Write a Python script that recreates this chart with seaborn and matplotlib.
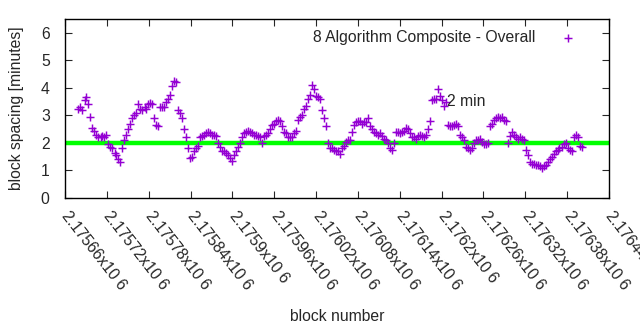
import numpy as np
import pandas as pd
import matplotlib
matplotlib.use("Agg")
import matplotlib.pyplot as plt
import seaborn as sns

FIRST_BLOCK = 2175679
LAST_BLOCK = 2176401

spacing = [
    3.25, 3.3, 3.2, 3.55, 3.65, 3.4, 2.95, 2.55, 2.45, 2.3,
    2.2, 2.2, 2.25, 2.2, 2.3, 1.95, 1.85, 1.8, 1.65, 1.55,
    1.4, 1.3, 1.8, 2.1, 2.3, 2.5, 2.7, 2.9, 3.0, 3.1,
    3.4, 3.25, 3.2, 3.3, 3.25, 3.4, 3.45, 3.4, 2.9, 2.65,
    2.6, 3.3, 3.3, 3.3, 3.5, 3.6, 3.75, 4.05, 4.25, 4.2,
    3.2, 3.1, 2.9, 2.5, 2.2, 1.8, 1.45, 1.5, 1.7, 1.8,
    1.9, 2.2, 2.25, 2.3, 2.35, 2.4, 2.35, 2.3, 2.3, 2.25,
    2.0, 1.85, 1.7, 1.7, 1.65, 1.55, 1.45, 1.35, 1.55, 1.7,
    1.85, 2.0, 2.2, 2.35, 2.4, 2.45, 2.4, 2.35, 2.3, 2.3,
    2.25, 2.2, 2.0, 2.25, 2.3, 2.35, 2.5, 2.65, 2.7, 2.8,
    2.85, 2.8, 2.6, 2.4, 2.35, 2.2, 2.2, 2.2, 2.35, 2.45,
    2.85, 2.95, 3.0, 3.25, 3.35, 3.6, 3.75, 4.1, 3.95, 3.7,
    3.65, 3.6, 3.2, 2.9, 2.6, 2.0, 1.8, 1.8, 1.75, 1.7,
    1.7, 1.6, 1.8, 1.9, 2.05, 2.1, 2.1, 2.4, 2.65, 2.75,
    2.8, 2.8, 2.7, 2.75, 2.75, 2.9, 2.6, 2.5, 2.4, 2.35,
    2.3, 2.35, 2.25, 2.15, 2.1, 2.0, 1.8, 1.75, 2.0, 2.4,
    2.4, 2.35, 2.4, 2.45, 2.55, 2.5, 2.35, 2.2, 2.2, 2.15,
    2.25, 2.3, 2.25, 2.2, 2.3, 2.5, 2.8, 3.55, 3.6, 3.6,
    3.95, 3.7, 3.55, 3.35, 3.5, 2.65, 2.6, 2.6, 2.65, 2.7,
    2.6, 2.3, 2.2, 2.1, 1.85, 1.8, 1.75, 1.8, 2.0, 2.1,
    2.1, 2.15, 2.05, 1.95, 1.95, 2.0, 2.6, 2.7, 2.85, 2.9,
    2.95, 2.9, 2.95, 2.85, 2.8, 2.0, 2.25, 2.4, 2.3, 2.2,
    2.15, 2.2, 2.15, 2.1, 1.75, 1.55, 1.3, 1.25, 1.25, 1.2,
    1.2, 1.15, 1.1, 1.15, 1.2, 1.3, 1.4, 1.5, 1.6, 1.7,
    1.75, 1.8, 1.85, 1.95, 2.0, 1.8, 1.75, 1.7, 2.2, 2.3,
    2.2, 1.9, 1.85,
]
blocks = np.round(np.linspace(FIRST_BLOCK, LAST_BLOCK, len(spacing)))

x_ticks = [2175660 + 60 * i for i in range(14)]
x_tick_labels = ["2.17566x10 6", "2.17572x10 6", "2.17578x10 6", "2.17584x10 6",
                 "2.1759x10 6", "2.17596x10 6", "2.17602x10 6", "2.17608x10 6",
                 "2.17614x10 6", "2.1762x10 6", "2.17626x10 6", "2.17632x10 6",
                 "2.17638x10 6", "2.17644x10 6"]
y_ticks = [0, 1, 2, 3, 4, 5, 6]
target_minutes = 2
series_label = "8 Algorithm Composite - Overall"
target_label = "2 min"
target_label_pos = (2176208, 3.5)

df = pd.DataFrame({"block": blocks, "spacing": spacing})

sns.set_style("ticks")
plt.rcParams["font.family"] = ["Liberation Sans", "DejaVu Sans"]
FS = 11.3

fig = plt.figure(figsize=(6.4, 3.3), dpi=100)
ax = fig.add_axes([65 / 640, 1 - 198 / 330, (609 - 65) / 640, (198 - 19) / 330])

sns.scatterplot(data=df, x="block", y="spacing", marker="+", color="#9400D3",
                s=34, linewidth=1.05, label=series_label, ax=ax, zorder=3)
ax.axhline(target_minutes, color="#00FF00", lw=3.2, zorder=2)
ax.text(target_label_pos[0], target_label_pos[1], target_label, fontsize=FS,
        ha="left", va="center", zorder=4)

ax.set_xlim(x_ticks[0], x_ticks[-1])
ax.set_ylim(0, 6.5)
ax.set_yticks(y_ticks)
ax.set_yticklabels([str(v) for v in y_ticks], fontsize=FS)
ax.set_xticks(x_ticks)
ax.set_xticklabels(x_tick_labels, fontsize=FS, rotation=-52,
                   ha="left", va="center", rotation_mode="anchor")
ax.tick_params(direction="in", length=5, width=0.8, top=True, right=True)
ax.tick_params(axis="y", pad=11)
ax.tick_params(axis="x", pad=11)
for sp in ax.spines.values():
    sp.set_visible(True)
    sp.set_color("black")
    sp.set_linewidth(1.0)

ax.set_xlabel("block number", fontsize=FS)
ax.set_ylabel("block spacing [minutes]", fontsize=FS)
ax.xaxis.set_label_coords(0.5, -0.62)
ax.yaxis.set_label_coords(-0.076, 0.5)

leg = ax.legend(loc="upper right", frameon=False, markerfirst=False,
                fontsize=FS, handlelength=1.2, handletextpad=1.5,
                borderaxespad=0.3, bbox_to_anchor=(0.962, 1.0))

fig.savefig("out.png", dpi=100)
